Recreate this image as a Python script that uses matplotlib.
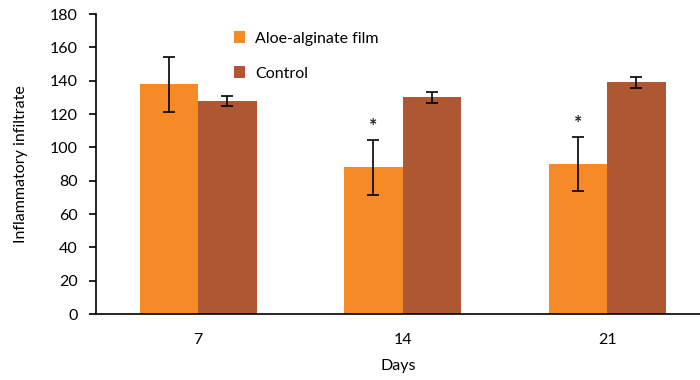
import matplotlib
matplotlib.use("Agg")
import matplotlib.pyplot as plt
import numpy as np

plt.rcParams['font.family'] = ['Lato', 'DejaVu Sans']

days = ["7", "14", "21"]
aloe = [138, 88, 90]
aloe_err = [16.5, 16.5, 16]
control = [128, 130, 139]
control_err = [3, 3.5, 3.5]
significant = [False, True, True]

fig = plt.figure(figsize=(7, 3.8), dpi=100)
ax = fig.add_axes([96/700, 1-314/380, 604/700, 300/380])

x = np.arange(len(days))
w = 0.286
c_aloe = "#F58A27"
c_ctrl = "#AE5733"
ekw = dict(ecolor="black", elinewidth=1.2, capsize=4.5, capthick=1.2)
ax.bar(x - w/2, aloe, w, color=c_aloe, label="Aloe-alginate film", yerr=aloe_err, error_kw=ekw)
ax.bar(x + w/2, control, w, color=c_ctrl, label="Control", yerr=control_err, error_kw=ekw)

for i, s in enumerate(significant):
    if s:
        ax.text(x[i] - w/2, aloe[i] + aloe_err[i] + 3, "*", ha="center", va="bottom",
                fontsize=14, color="#222222", fontweight="bold")

fs = 11.5
ax.set_xlim(-0.5, 2.454)
ax.set_ylim(0, 180)
ax.set_yticks(np.arange(0, 181, 20))
ax.set_xticks(x)
ax.set_xticklabels(days)
ax.tick_params(axis="x", length=0, pad=14, labelsize=fs)
ax.tick_params(axis="y", length=5, width=1.2, direction="out", labelsize=fs, pad=8)
for sp in ["top", "right"]:
    ax.spines[sp].set_visible(False)
ax.spines["left"].set_linewidth(1.2)
ax.spines["bottom"].set_linewidth(1.2)
ax.set_ylabel("Inflammatory infiltrate", fontsize=fs, labelpad=16)
ax.set_xlabel("Days", fontsize=fs, labelpad=8)

leg = ax.legend(loc="upper left", bbox_to_anchor=(0.205, 0.99), frameon=False,
                handlelength=0.7, handleheight=0.7, handletextpad=0.6,
                labelspacing=1.3, fontsize=fs)

fig.savefig("out.png", dpi=100)
